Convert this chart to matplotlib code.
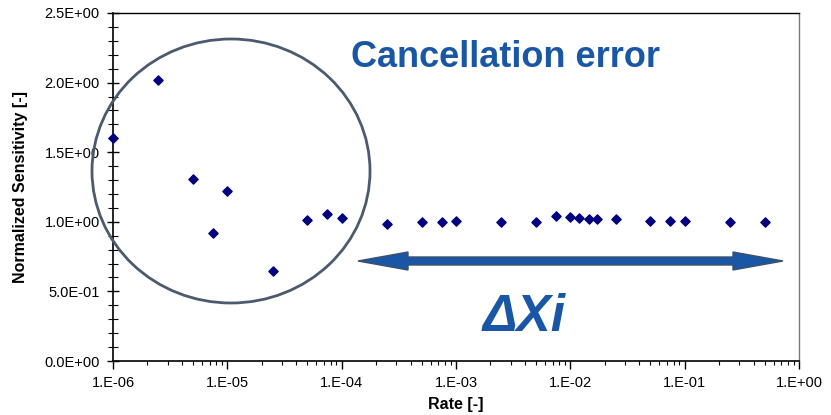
import matplotlib.pyplot as plt
from matplotlib.patches import Ellipse, Polygon
from matplotlib.ticker import FixedLocator, LogLocator, NullFormatter

plt.rcParams['font.family'] = ['Liberation Sans', 'DejaVu Sans']

# Data
rate = [1e-6, 2.5e-6, 5e-6, 7.5e-6, 1e-5, 2.5e-5, 5e-5, 7.5e-5, 1e-4,
        2.5e-4, 5e-4, 7.5e-4, 1e-3, 2.5e-3, 5e-3, 7.5e-3, 1e-2, 1.2e-2,
        1.45e-2, 1.7e-2, 2.5e-2, 5e-2, 7.5e-2, 1e-1, 2.5e-1, 5e-1]
sensitivity = [1.60, 2.02, 1.31, 0.92, 1.22, 0.65, 1.01, 1.055, 1.03,
               0.985, 0.995, 0.995, 1.005, 1.0, 1.0, 1.045, 1.035, 1.025,
               1.02, 1.02, 1.022, 1.006, 1.006, 1.006, 0.998, 0.998]

x_ticks = [1e-6, 1e-5, 1e-4, 1e-3, 1e-2, 1e-1, 1e0]
x_tick_labels = ['1.E-06', '1.E-05', '1.E-04', '1.E-03', '1.E-02', '1.E-01', '1.E+00']
y_ticks = [0.0, 0.5, 1.0, 1.5, 2.0, 2.5]
y_tick_labels = ['0.0E+00', '5.0E-01', '1.0E+00', '1.5E+00', '2.0E+00', '2.5E+00']

blue = '#1957a6'

fig = plt.figure(figsize=(8.31, 4.15), dpi=100)
ax = fig.add_axes([113 / 831, 54 / 415, 686 / 831, 348 / 415])

ax.scatter(rate, sensitivity, marker='D', s=22, color='#00007f', zorder=3, clip_on=False)

ax.set_xscale('log')
ax.set_xlim(1e-6, 1e0)
ax.set_ylim(0, 2.5)

ax.set_xticks(x_ticks)
ax.set_xticklabels(x_tick_labels, fontsize=10.5)
ax.xaxis.set_minor_locator(LogLocator(base=10, subs=range(2, 10)))
ax.xaxis.set_minor_formatter(NullFormatter())
ax.set_yticks(y_ticks)
ax.set_yticklabels(y_tick_labels, fontsize=10.5)
ax.yaxis.set_minor_locator(FixedLocator([i / 10 for i in range(26)]))

ax.tick_params(axis='x', which='major', direction='out', length=6, width=1, pad=5)
ax.tick_params(axis='x', which='minor', direction='out', length=3, width=0.8)
ax.tick_params(axis='y', which='major', direction='inout', length=9, width=1, pad=5)
ax.tick_params(axis='y', which='minor', direction='inout', length=6.5, width=0.8)

for side in ['left', 'bottom']:
    ax.spines[side].set_linewidth(1.2)
ax.spines['top'].set_linewidth(1.0)
ax.spines['right'].set_color('#777777')
ax.spines['right'].set_linewidth(1.0)

ax.set_xlabel('Rate [-]', fontsize=11.5, fontweight='bold', va='center')
ax.xaxis.set_label_coords(0.5, (361 - 404) / 348)
ax.set_ylabel('Normalized Sensitivity [-]', fontsize=11.5, fontweight='bold', va='center')
ax.yaxis.set_label_coords((21 - 113) / 686, (361 - 187) / 348)

# Annotations in figure pixel space
def fp(x, y):
    return (x / 831, 1 - y / 415)

ell = Ellipse(fp(231, 171), 278 / 831, 264 / 415, transform=fig.transFigure,
              fill=False, edgecolor='#4b5a6e', linewidth=2, zorder=4)
fig.patches.append(ell)

y0 = 261
shaft = 4
head = 9
arrow_pts = [(358, y0), (408, y0 - head), (408, y0 - shaft), (733, y0 - shaft),
             (733, y0 - head), (783, y0), (733, y0 + head), (733, y0 + shaft),
             (408, y0 + shaft), (408, y0 + head)]
arrow = Polygon([fp(x, y) for x, y in arrow_pts], closed=True, transform=fig.transFigure,
                facecolor=blue, edgecolor='#3f4f66', linewidth=1, zorder=4)
fig.patches.append(arrow)

fig.text(*fp(505, 67), 'Cancellation error', fontsize=26, fontweight='bold',
         color=blue, ha='center', va='baseline')
fig.text(*fp(524, 331), 'ΔXi', fontsize=37, fontweight='bold', fontstyle='italic',
         color=blue, ha='center', va='baseline')

plt.savefig('out.png', dpi=100)
